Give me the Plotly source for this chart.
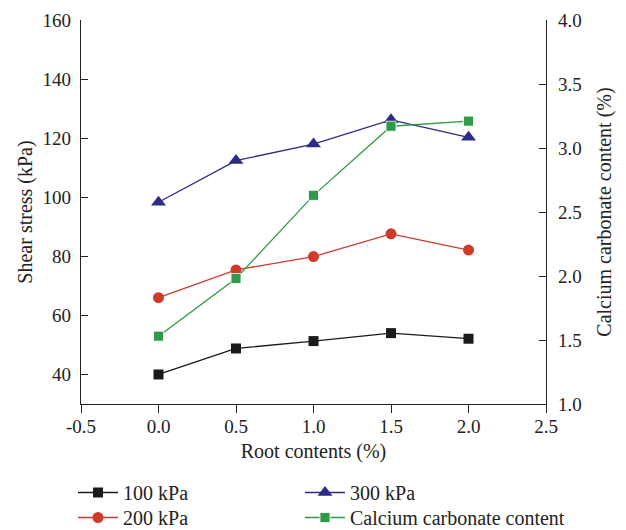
import plotly.graph_objects as go

root = [0.0, 0.5, 1.0, 1.5, 2.0]
s100 = [40.0, 48.8, 51.3, 54.0, 52.1]
s200 = [66.0, 75.4, 79.9, 87.6, 82.1]
s300 = [98.3, 112.4, 118.0, 126.2, 120.3]
caco3 = [1.53, 1.98, 2.63, 3.17, 3.21]

FONT = "Liberation Serif"
BLACK = "#1a1a1a"
RED = "#cf3a2b"
BLUE = "#2e2a88"
GREEN = "#2f9a48"
AX = "#222"

fig = go.Figure()
fig.add_trace(go.Scatter(x=root, y=s100, name="100 kPa", mode="lines+markers",
                         line=dict(color=BLACK, width=1.3),
                         marker=dict(symbol="square", size=10, color=BLACK), legend="legend"))
fig.add_trace(go.Scatter(x=root, y=s200, name="200 kPa", mode="lines+markers",
                         line=dict(color=RED, width=1.3),
                         marker=dict(symbol="circle", size=11, color=RED), legend="legend2"))
fig.add_trace(go.Scatter(x=root, y=s300, name="300 kPa", mode="lines+markers",
                         line=dict(color=BLUE, width=1.3),
                         marker=dict(symbol="triangle-up", size=13, color=BLUE), legend="legend3"))
fig.add_trace(go.Scatter(x=root, y=caco3, name="Calcium carbonate content", mode="lines+markers",
                         line=dict(color=GREEN, width=1.3),
                         marker=dict(symbol="square", size=10, color=GREEN,
                                     line=dict(color="white", width=0.8)),
                         yaxis="y2", legend="legend4"))

def ax(ticks, ticklen):
    return dict(showline=True, linecolor=AX, linewidth=1.3, ticks=ticks,
                ticklen=ticklen, tickcolor=AX, tickwidth=1.3, showgrid=False, zeroline=False,
                tickfont=dict(family=FONT, size=19, color=AX))

TITLE_FONT = dict(family=FONT, size=20, color=AX)
LEG_FONT = dict(family=FONT, size=20, color=AX)

def leg(x, y):
    return dict(x=x, y=y, xanchor="left", yanchor="top", orientation="v",
                font=LEG_FONT, itemwidth=40, bgcolor="rgba(0,0,0,0)")

ROW1 = -0.1797
ROW2 = -0.2448
COL1 = -0.0172
COL2 = 0.471

fig.update_layout(
    width=618, height=560,
    margin=dict(l=73, r=80, t=12, b=164),
    plot_bgcolor="white", paper_bgcolor="white",
    font=dict(family=FONT, size=19, color=AX),
    showlegend=True,
    xaxis=dict(range=[-0.5, 2.5], tickvals=[-0.5, 0, 0.5, 1.0, 1.5, 2.0, 2.5],
               ticktext=["-0.5", "0.0", "0.5", "1.0", "1.5", "2.0", "2.5"],
               title=dict(text="Root contents (%)", font=TITLE_FONT, standoff=8),
               ticklabelstandoff=-3,
               **ax("outside", 8)),
    yaxis=dict(range=[30, 160], tickvals=[40, 60, 80, 100, 120, 140, 160],
               title=dict(text="Shear stress (kPa)", font=TITLE_FONT, standoff=4),
               ticklabelstandoff=5, automargin=False,
               **ax("inside", 7)),
    yaxis2=dict(range=[1, 4], tickvals=[1.0, 1.5, 2.0, 2.5, 3.0, 3.5, 4.0],
                ticktext=["1.0", "1.5", "2.0", "2.5", "3.0", "3.5", "4.0"],
                overlaying="y", side="right", ticklabelstandoff=7, automargin=False,
                title=dict(text="Calcium carbonate content (%)", font=TITLE_FONT, standoff=16),
                **ax("inside", 7)),
    legend=leg(COL1, ROW1),
    legend2=leg(COL1, ROW2),
    legend3=leg(COL2, ROW1),
    legend4=leg(COL2, ROW2),
)

fig.write_html("out.html")
